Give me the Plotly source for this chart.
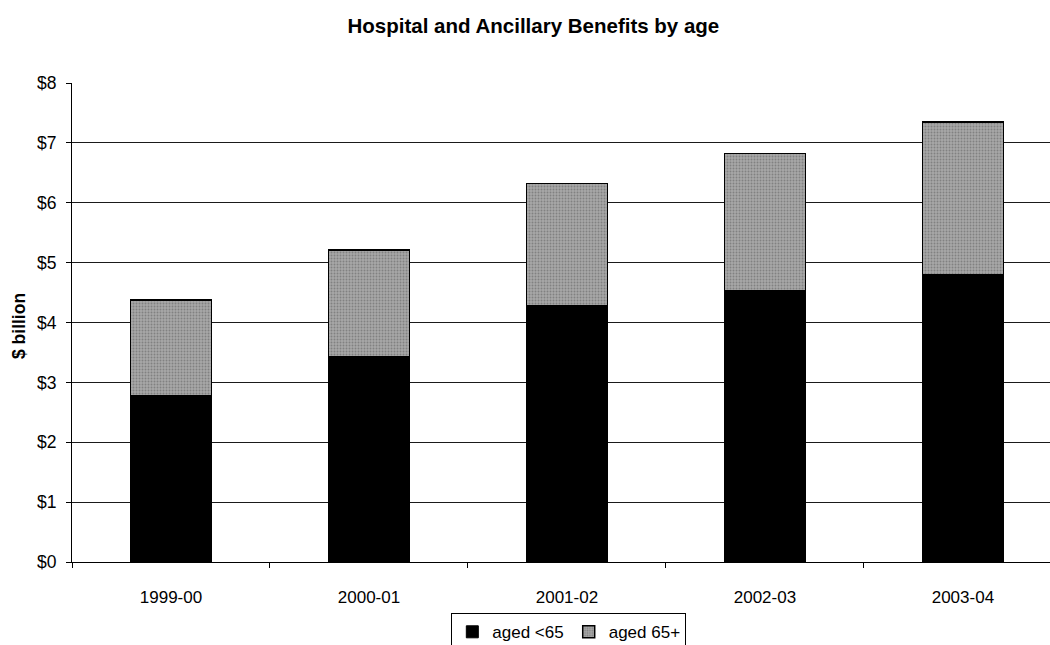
import plotly.graph_objects as go

years = ["1999-00", "2000-01", "2001-02", "2002-03", "2003-04"]
aged_under65 = [2.77, 3.42, 4.28, 4.53, 4.79]
aged_65plus = [1.61, 1.79, 2.04, 2.29, 2.56]
y_ticks = [0, 1, 2, 3, 4, 5, 6, 7, 8]
y_tick_labels = ["$0", "$1", "$2", "$3", "$4", "$5", "$6", "$7", "$8"]

FONT = "Liberation Sans, Arial, sans-serif"

fig = go.Figure()
fig.add_trace(go.Bar(
    x=years, y=aged_under65, name="aged <65",
    marker=dict(color="#000000", line=dict(color="#000000", width=1)),
    width=0.41,
))
fig.add_trace(go.Bar(
    x=years, y=aged_65plus, name="aged 65+",
    marker=dict(color="#9c9c9c", line=dict(color="#000000", width=1.5),
                pattern=dict(shape=".", fgcolor="#5a5a5a", bgcolor="#a8a8a8", size=3, solidity=0.35)),
    width=0.41,
))

fig.update_layout(
    barmode="stack",
    width=1050, height=645,
    margin=dict(l=72, r=0, t=83, b=83, autoexpand=False),
    paper_bgcolor="white", plot_bgcolor="white",
    font=dict(family=FONT, color="black", size=17),
    title=dict(text="<b>Hospital and Ancillary Benefits by age</b>",
               x=0.508, xanchor="center", y=1 - 26 / 645, yanchor="middle",
               font=dict(size=20.5, family=FONT, color="black")),
    showlegend=True,
    legend=dict(orientation="h", x=0.508, xanchor="center", y=-0.107, yanchor="top",
                bordercolor="black", borderwidth=1, bgcolor="white",
                font=dict(size=17, family=FONT), itemwidth=30,
                tracegroupgap=0, traceorder="normal"),
)

fig.update_xaxes(
    type="category", range=[-0.5, 4.44], automargin=False,
    showline=True, linecolor="black", linewidth=1,
    ticks="outside", tickson="boundaries", ticklen=5, tickcolor="black",
    showgrid=False, ticklabelstandoff=20,
    tickfont=dict(size=17, family=FONT),
)
fig.update_yaxes(
    range=[0, 8], tickvals=y_ticks, ticktext=y_tick_labels, automargin=False,
    showline=True, linecolor="black", linewidth=1,
    ticks="outside", ticklen=5, tickcolor="black",
    showgrid=True, gridcolor="#1a1a1a", gridwidth=1.2,
    zeroline=False, ticklabelstandoff=6,
    tickfont=dict(size=17.5, family=FONT),
)

fig.add_annotation(
    text="<b>$ billion</b>", textangle=-90,
    xref="paper", yref="paper", x=(18.5 - 72) / 978, y=(562 - 326.5) / 479,
    xanchor="center", yanchor="middle", showarrow=False,
    font=dict(size=17.5, family=FONT, color="black"),
)

fig.write_html("out.html")
